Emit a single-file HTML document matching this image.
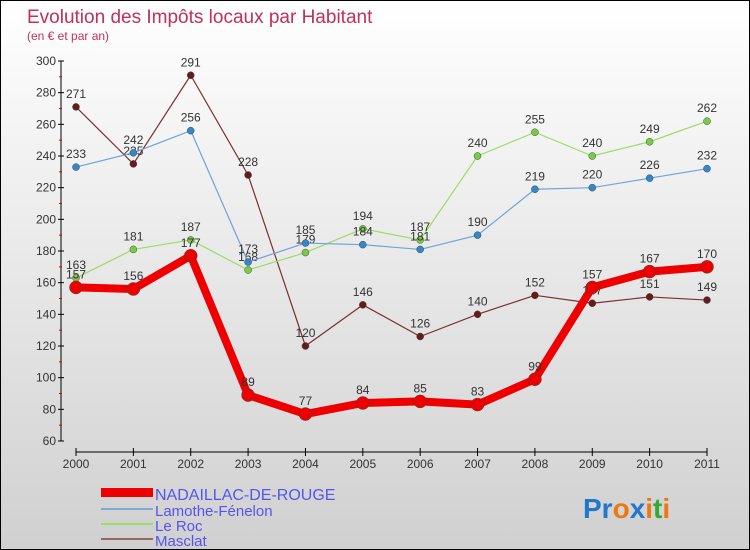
<!DOCTYPE html>
<html><head><meta charset="utf-8"><style>
body{margin:0;}
#c{width:750px;height:550px;position:relative;box-sizing:border-box;border:1px solid #000;background:linear-gradient(#ffffff,#d0d0d0);font-family:"Liberation Sans",sans-serif;overflow:hidden}
</style></head><body>
<div id="c">
<svg id="s" width="750" height="550" style="position:absolute;left:0;top:0">
<text x="26" y="22" font-size="19" fill="#c0305a">Evolution des Impôts locaux par Habitant</text>
<text x="26" y="39" font-size="12" fill="#c0305a">(en € et par an)</text>
<line x1="60" y1="60" x2="60" y2="440" stroke="#000"/>
<line x1="75" y1="451" x2="706" y2="451" stroke="#000"/>
<g id="ticks"></g><g id="series"></g>
<g>
<rect x="100" y="487" width="52" height="9" fill="#e00"/>
<text x="154" y="499" font-size="16" fill="#5555ee">NADAILLAC-DE-ROUGE</text>
<line x1="100" y1="508" x2="152" y2="508" stroke="#7aaad8" stroke-width="2"/>
<text x="154" y="515" font-size="15" fill="#5555ee">Lamothe-Fénelon</text>
<line x1="100" y1="523" x2="152" y2="523" stroke="#99dd66" stroke-width="2"/>
<text x="154" y="530" font-size="15" fill="#5555ee">Le Roc</text>
<line x1="100" y1="538" x2="152" y2="538" stroke="#996666" stroke-width="2"/>
<text x="154" y="545" font-size="15" fill="#5555ee">Masclat</text>
</g>
<text x="582" y="517" font-size="28" font-weight="bold"><tspan fill="#2277cc">Pr</tspan><tspan fill="#ee7711">o</tspan><tspan fill="#2277cc">x</tspan><tspan fill="#ee7711">i</tspan><tspan fill="#33aa33">t</tspan><tspan fill="#ee7711">i</tspan></text>
</svg>
</div>
<script>
const years=["2000","2001","2002","2003","2004","2005","2006","2007","2008","2009","2010","2011"];
const yTicks=[60,80,100,120,140,160,180,200,220,240,260,280,300];
const nadaillac=[157,156,177,89,77,84,85,83,99,157,167,170];
const lamothe=[233,242,256,173,185,184,181,190,219,220,226,232];
const leroc=[163,181,187,168,179,194,187,240,255,240,249,262];
const masclat=[271,235,291,228,120,146,126,140,152,147,151,149];
const NS="http://www.w3.org/2000/svg";
const X=i=>75+i*(631/11), Y=v=>440-(v-60)*380/240;
function mk(t,a,p){const e=document.createElementNS(NS,t);for(const k in a)e.setAttribute(k,a[k]);p.appendChild(e);return e;}
const tg=document.getElementById('ticks');
yTicks.forEach((v,i)=>{
 mk('line',{x1:57,x2:63,y1:Y(v),y2:Y(v),stroke:'#000'},tg);
 if(i<yTicks.length-1) mk('line',{x1:58,x2:61,y1:Y(v+10),y2:Y(v+10),stroke:'#d00'},tg);
 const t=mk('text',{x:55,y:Y(v)+4,'font-size':12,fill:'#333','text-anchor':'end'},tg);
 
 
 t.textContent=v;
});
years.forEach((y,i)=>{
 mk('line',{x1:X(i),x2:X(i),y1:447,y2:455,stroke:'#000'},tg);
 const t=mk('text',{x:X(i),y:467,'font-size':12,fill:'#333','text-anchor':'middle'},tg);
 
 
 t.textContent=y;
});
const sg=document.getElementById('series');
function draw(vals,color,w,r,name,dot){
 const g=mk('g',{},sg);
 
 
 mk('polyline',{points:vals.map((v,i)=>X(i)+','+Y(v)).join(' '),fill:'none',stroke:color,'stroke-width':w,'stroke-linejoin':'round'},g);
 vals.forEach((v,i)=>{
  const c=mk('circle',{cx:X(i),cy:Y(v),r:r,fill:dot,stroke:'#444','stroke-width':0.5},g);
  
  
  const t=mk('text',{x:X(i),y:Y(v)-9,'font-size':12,fill:'#333','text-anchor':'middle'},g);
  
  
  t.textContent=v;
 });
}
draw(masclat,'#7a3030',1.2,3.5,'series-masclat','#661a1a');
draw(leroc,'#99dd66',1.2,3.5,'series-leroc','#77cc44');
draw(lamothe,'#6fa3d6',1.2,3.5,'series-lamothe','#3388cc');
draw(nadaillac,'#ee0000',8,6.5,'series-nadaillac','#ee0000');
</script>
</body></html>
